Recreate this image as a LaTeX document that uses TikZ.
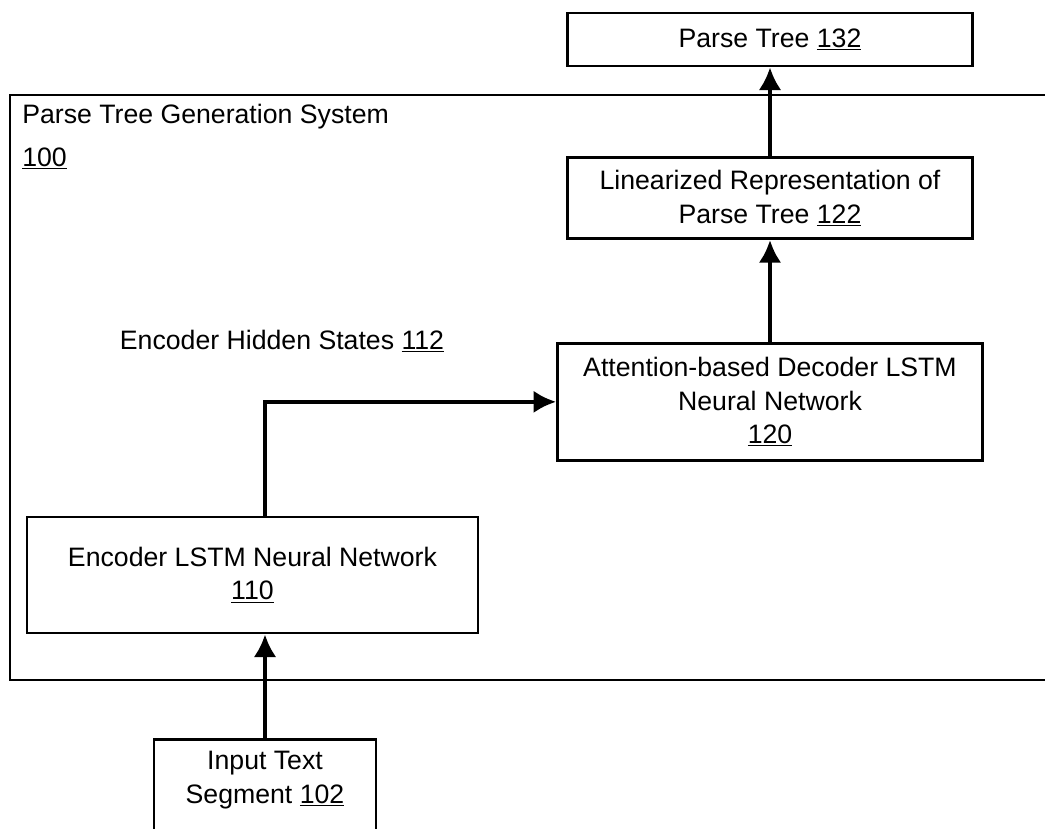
\documentclass[tikz,border=0pt]{standalone}
\usepackage{fontspec}
\setmainfont{Liberation Sans}
\usepackage{tikz}
\usetikzlibrary{positioning,arrows.meta}

\begin{document}
\begin{tikzpicture}[x=0.75pt, y=-0.75pt,
  font=\fontsize{20}{25}\selectfont,
  blk/.style={draw, line width=2pt, align=center, inner sep=0pt},
  flow/.style={line width=3.2pt, -{Latex[length=17pt,width=17pt]}}]
\clip (0,0) rectangle (1045,828);
% system frame (right side runs off the page)
\draw[line width=2pt] (1060,95) -| (10,680) -- (1060,680);
\node[anchor=north west, align=left, inner sep=0pt] (sys) at (22,104) {Parse Tree Generation System\\[7pt]\underline{100}};
\node[blk, minimum width=303.75pt, minimum height=39.75pt] (pt) at (770,39.5) {Parse Tree \underline{132}};
\node[blk, minimum width=303.75pt, minimum height=60.75pt, below=66.75pt of pt] (lin) {Linearized Representation of\\Parse Tree \underline{122}};
\node[blk, minimum width=318.75pt, minimum height=87.75pt, below=76.5pt of lin] (dec) {Attention-based Decoder LSTM\\Neural Network\\\underline{120}};
\node[blk, minimum width=338.25pt, minimum height=87pt] (enc) at (252.5,575) {Encoder LSTM Neural Network\\\underline{110}};
\node[blk, minimum width=166.5pt, inner ysep=9pt, text depth=50pt, anchor=north] (inp) at (265,738) {Input Text\\Segment \underline{102}};
\node (hid) at (282,341) {Encoder Hidden States \underline{112}};
\draw[flow] (inp.north) -- (inp.north |- enc.south);
\draw[flow] (inp.north |- enc.north) |- (dec.west);
\draw[flow] (dec) -- (lin);
\draw[flow] (lin) -- (pt);
\end{tikzpicture}
\end{document}
